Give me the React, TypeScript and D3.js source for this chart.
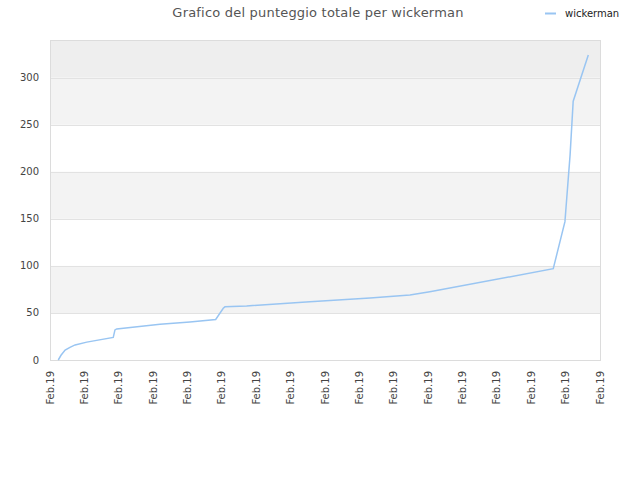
import { useEffect, useRef } from "react"
import * as d3 from "d3"

// posizione sull'asse x (in intervalli di tick) e punteggio
const tPos = [0.24, 0.32, 0.44, 0.58, 0.73, 1.07, 1.84, 1.89, 1.94, 3.2, 4.07, 4.82, 5.04, 5.09, 5.72, 7.56, 9.31, 10.47, 11.05, 14.64, 14.98, 15.13, 15.22, 15.66]
const scores = [0, 5, 10.5, 13.5, 16, 19, 24, 32, 33, 38, 40.5, 43, 55, 56.5, 57.5, 62, 66, 69, 72.5, 97, 147, 218, 275, 324]
const xTickLabels = Array.from({ length: 17 }, () => "Feb.19")
const yTicks = [0, 50, 100, 150, 200, 250, 300]
const bands = [
  { from: 50, to: 100, color: "#f3f3f3" },
  { from: 150, to: 200, color: "#f3f3f3" },
  { from: 250, to: 300, color: "#f3f3f3" },
  { from: 300, to: 340, color: "#eeeeee" },
]
const seriesName = "wickerman"
const title = "Grafico del punteggio totale per wickerman"

export default function App() {
  const svgRef = useRef<SVGSVGElement>(null)

  useEffect(() => {
    if (!svgRef.current) return
    const root = d3.select(svgRef.current)
    root.selectAll("*").remove()

    const margin = { top: 40, right: 40, bottom: 120, left: 50 }
    const width = 640 - margin.left - margin.right
    const height = 480 - margin.top - margin.bottom
    const font = "'DejaVu Sans', sans-serif"

    // titolo
    root
      .append("text")
      .attr("x", 318)
      .attr("y", 17)
      .attr("text-anchor", "middle")
      .attr("font-family", font)
      .attr("font-size", 13)
      .attr("letter-spacing", 0.2)
      .attr("fill", "#555")
      .text(title)

    // legenda
    root
      .append("line")
      .attr("x1", 545)
      .attr("x2", 556)
      .attr("y1", 13.5)
      .attr("y2", 13.5)
      .attr("stroke", "#99c5f2")
      .attr("stroke-width", 2)
    root
      .append("text")
      .attr("x", 565)
      .attr("y", 16.5)
      .attr("font-family", font)
      .attr("font-size", 10)
      .attr("fill", "#222")
      .text(seriesName)

    const svg = root.append("g").attr("transform", `translate(${margin.left},${margin.top})`)

    const x = d3.scaleLinear().domain([0, xTickLabels.length - 1]).range([0, width])
    const y = d3.scaleLinear().domain([0, 340]).range([height, 0])

    // bande
    svg
      .selectAll(".band")
      .data(bands)
      .enter()
      .append("rect")
      .attr("x", 0)
      .attr("width", width)
      .attr("y", (d) => y(d.to))
      .attr("height", (d) => y(d.from) - y(d.to))
      .attr("fill", (d) => d.color)

    // griglia
    svg
      .selectAll(".grid")
      .data(yTicks.slice(1))
      .enter()
      .append("line")
      .attr("x1", 0)
      .attr("x2", width)
      .attr("y1", (d) => Math.round(y(d)) + 0.5)
      .attr("y2", (d) => Math.round(y(d)) + 0.5)
      .attr("stroke", "#e2e2e2")

    // bordo
    svg
      .append("rect")
      .attr("x", 0.5)
      .attr("y", 0.5)
      .attr("width", width)
      .attr("height", height)
      .attr("fill", "none")
      .attr("stroke", "#dcdcdc")

    // etichette y
    svg
      .selectAll(".ylab")
      .data(yTicks)
      .enter()
      .append("text")
      .attr("x", -11)
      .attr("y", (d) => y(d) + 3.5)
      .attr("text-anchor", "end")
      .attr("font-family", font)
      .attr("font-size", 10)
      .attr("fill", "#444")
      .text((d) => d)

    // etichette x
    svg
      .selectAll(".xlab")
      .data(xTickLabels)
      .enter()
      .append("text")
      .attr("transform", (_, i) => `translate(${x(i) + 3.5},${height + 11}) rotate(-90)`)
      .attr("text-anchor", "end")
      .attr("font-family", font)
      .attr("font-size", 10)
      .attr("fill", "#444")
      .text((d) => d)

    const points = tPos.map((t, i) => ({ t, v: scores[i] }))
    const line = d3
      .line<{ t: number; v: number }>()
      .x((d) => x(d.t))
      .y((d) => y(d.v))

    svg
      .append("path")
      .datum(points)
      .attr("fill", "none")
      .attr("stroke", "#99c5f2")
      .attr("stroke-width", 1.5)
      .attr("d", line)
  }, [])

  return (
    <div style={{ position: "absolute", left: 0, top: 0 }}>
      <svg ref={svgRef} width={640} height={480} style={{ display: "block", background: "#fff" }} />
    </div>
  )
}
